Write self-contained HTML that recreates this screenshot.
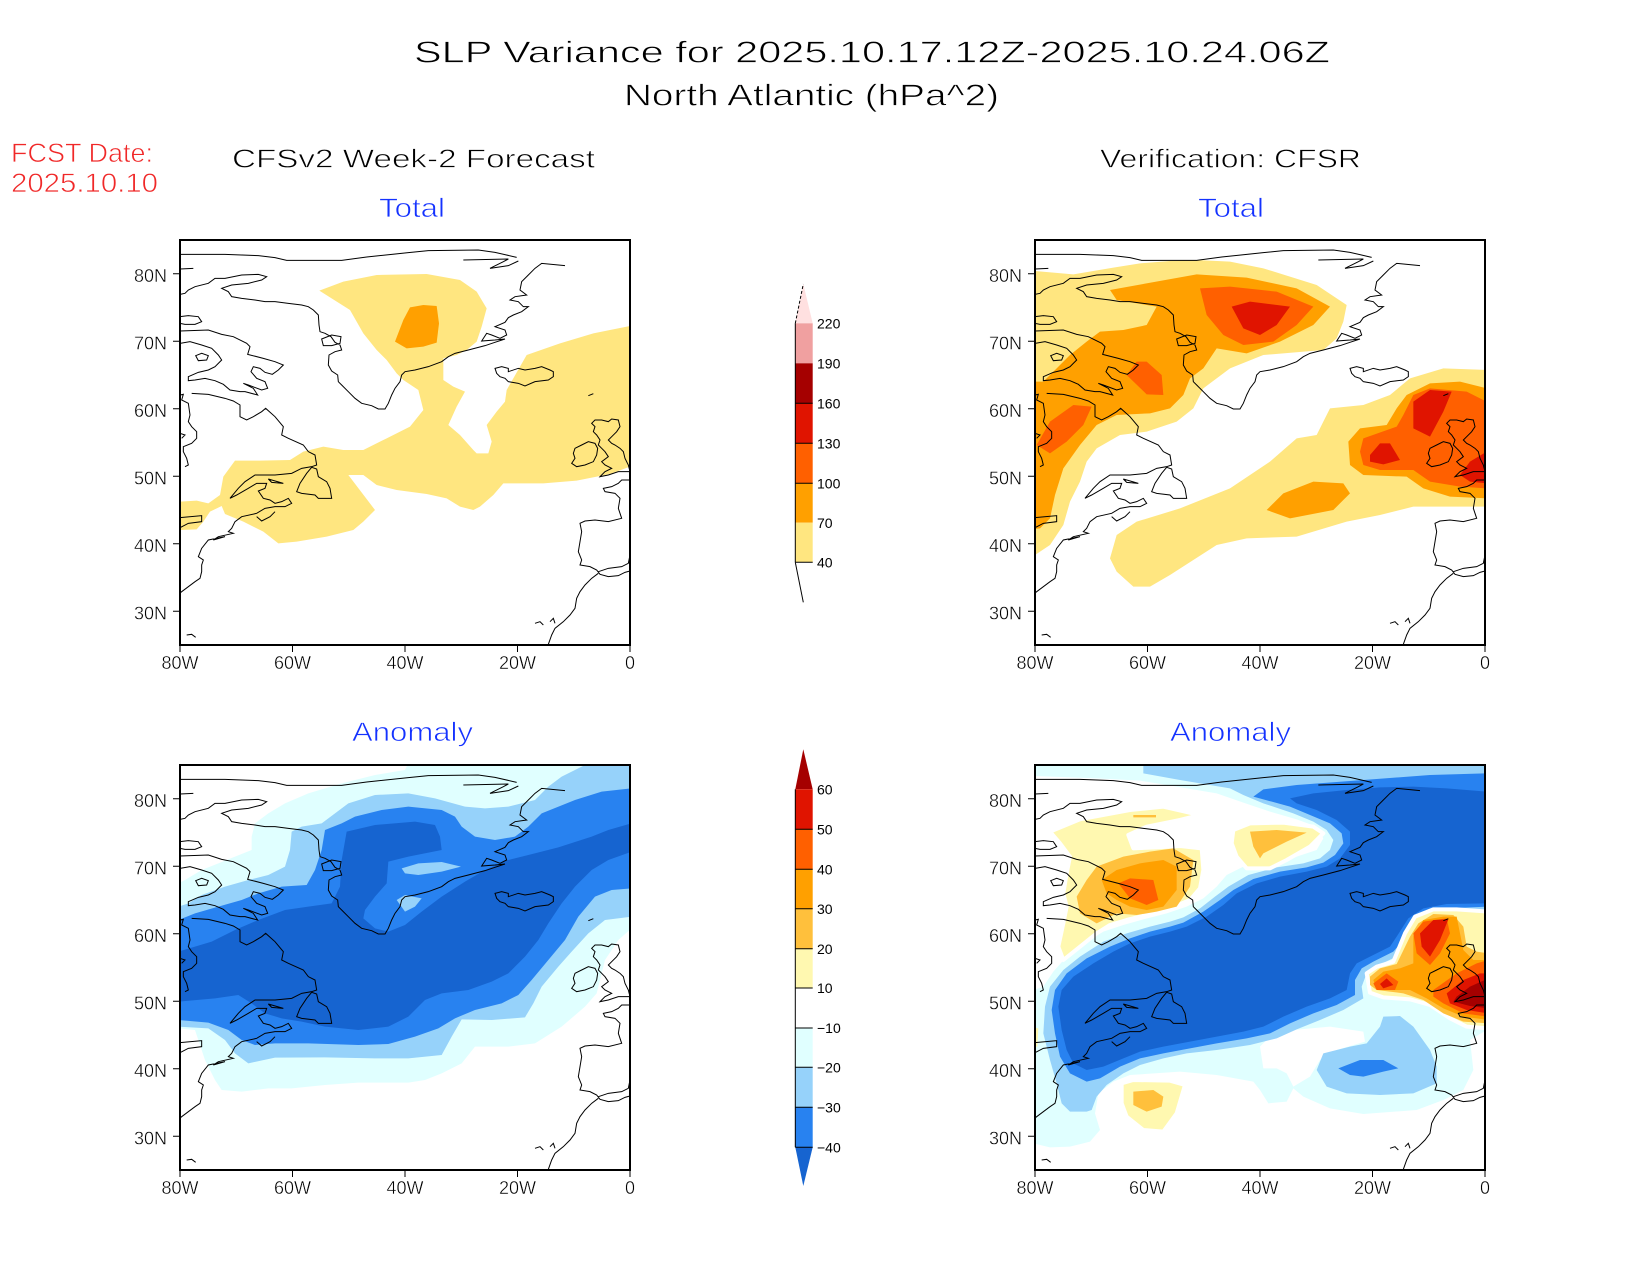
<!DOCTYPE html>
<html><head><meta charset="utf-8"><style>
html,body{margin:0;padding:0;background:#fff;}
svg{display:block;}
text{font-family:"Liberation Sans",sans-serif;}
.thin{stroke:#fff;stroke-width:0.7px;}
.thin2{stroke:#fff;stroke-width:0.4px;}
</style></head><body>
<svg xmlns="http://www.w3.org/2000/svg" xmlns:xlink="http://www.w3.org/1999/xlink" width="1650" height="1275" viewBox="0 0 1650 1275">
<defs>
<clipPath id="cTL"><rect x="180" y="240" width="450" height="405"/></clipPath>
<clipPath id="cTR"><rect x="1035" y="240" width="450" height="405"/></clipPath>
<clipPath id="cBL"><rect x="180" y="765" width="450" height="405"/></clipPath>
<clipPath id="cBR"><rect x="1035" y="765" width="450" height="405"/></clipPath>
<path id="coast" fill="none" stroke="#000" stroke-width="1" vector-effect="non-scaling-stroke" d="M15,58 L150,58 L250,62 L300,68 L335,76 L500,76 L575,66 L700,53 L760,47 L910,45 L960,52 L1025,67 M865,75 L1000,72 L985,80 L945,100 L1000,92 L1030,78 M15,102 L55,100 M1170,92 L1100,85 L1080,100 L1060,120 L1040,140 L1035,165 L1055,180 L1020,185 L1005,195 L1030,200 L1045,215 L1060,215 L1040,230 L1015,240 L1000,248 L990,262 L960,275 L990,285 L995,300 L975,310 L950,300 L935,295 L920,318 L960,315 L990,312 L960,322 L930,332 L880,345 L840,355 L820,365 L800,380 L760,395 L720,405 L690,410 L680,420 L675,440 L660,460 L650,480 L640,505 L630,522 L610,522 L590,512 L560,505 L540,490 L520,470 L500,450 L490,440 L488,420 L470,408 L460,390 L462,360 L480,350 L500,345 L495,330 L480,322 L468,305 L450,295 L435,290 L432,270 L430,240 L415,225 L400,215 L380,210 L340,205 L300,200 L270,200 L240,195 L200,190 L170,185 L160,170 L140,160 L170,150 L220,145 L260,135 L275,125 L250,118 L200,120 L150,130 L120,130 L100,145 L60,155 L40,165 L30,175 L15,178 M440,312 L470,300 L498,305 L495,325 L470,332 L445,332 Z M15,245 L40,242 L70,245 L80,260 L60,268 L30,268 L15,265 M15,288 L100,285 L140,298 L175,305 L215,325 L225,335 L218,358 L265,370 L300,380 L325,390 L310,405 L292,418 L270,412 L255,400 L235,395 L228,410 L245,430 L270,440 L278,460 L260,465 L220,450 L205,445 L235,460 L248,480 L210,470 L195,470 L165,465 L145,448 L120,437 L90,430 L60,435 L40,437 L40,425 L70,412 L100,405 L120,395 L140,375 L130,360 L110,340 L80,330 L45,320 L15,325 M62,362 L80,355 L100,362 L95,375 L70,377 Z M15,480 L25,478 L20,495 L40,505 L45,540 L40,560 L50,575 L65,590 L65,610 L50,625 L25,635 L25,650 L35,670 L40,690 L30,695 M15,595 L30,600 L20,610 M50,475 L100,478 L150,490 L175,498 L195,510 L195,545 L215,555 L235,545 L260,530 L272,520 L300,545 L325,575 L320,600 L340,610 L385,630 L400,650 L420,660 L425,690 L410,695 L380,700 L350,715 L300,720 L240,720 L210,740 L190,760 L165,790 L185,780 L220,760 L245,745 L275,745 L270,760 L250,768 L265,790 L285,795 L300,805 L320,800 L340,790 L350,805 L330,815 L300,815 L270,820 L245,835 L200,845 L180,860 L170,880 L160,890 L175,895 L130,905 L115,915 L150,905 L100,915 L80,940 L70,965 L85,975 L80,990 L80,1010 L75,1030 L60,1040 L40,1055 L20,1070 L15,1075 M410,697 L425,702 L430,725 L455,740 L465,760 L470,790 L455,790 L430,790 L420,780 L380,775 L365,770 L375,745 L395,715 Z M245,845 L260,858 L285,845 L300,830 M280,732 L325,745 L290,742 Z M15,848 L80,842 L80,860 L40,865 L15,878 M960,400 L980,395 L1000,400 L1000,410 L1030,400 L1050,405 L1080,400 L1100,395 L1125,405 L1135,410 L1135,425 L1120,435 L1080,440 L1050,453 L1030,445 L1000,440 L990,430 L975,425 L965,415 Z M1250,565 L1260,555 L1280,555 L1300,560 L1310,552 L1330,555 L1335,575 L1325,590 L1310,605 L1300,615 L1310,625 L1320,630 L1335,640 L1345,650 L1350,670 L1360,690 L1365,710 L1330,710 L1300,720 L1275,725 L1290,710 L1310,700 L1290,690 L1280,680 L1300,665 L1290,650 L1280,640 L1270,630 L1275,615 L1265,600 L1255,590 L1260,575 Z M1200,640 L1220,630 L1240,620 L1260,625 L1268,640 L1265,660 L1255,680 L1230,690 L1205,695 L1190,685 L1200,670 L1195,655 Z M1365,735 L1340,735 L1330,745 L1310,755 L1285,760 L1290,770 L1320,775 L1335,790 L1330,820 L1340,850 L1300,860 L1260,855 L1230,858 L1215,865 L1220,890 L1215,920 L1210,950 L1220,975 L1215,990 L1245,995 L1265,1005 L1275,1018 L1300,1025 L1330,1022 L1350,1012 L1365,1008 M1270,1010 L1300,1000 L1340,995 L1360,985 L1365,960 M1270,1015 L1250,1030 L1230,1050 L1215,1070 L1205,1090 L1200,1120 L1185,1140 L1165,1160 L1140,1180 L1130,1200 L1120,1228 M1080,1165 L1095,1160 L1105,1170 M1125,1160 L1135,1150 L1140,1165 M35,1200 L50,1198 L62,1207 M1240,482 L1255,476"/>
</defs>
<rect x="0" y="0" width="1650" height="1275" fill="#fff"/>

<!-- Titles -->
<g class="thin">
<text x="414" y="62.5" font-size="31" textLength="916" lengthAdjust="spacingAndGlyphs" fill="#000">SLP Variance for 2025.10.17.12Z-2025.10.24.06Z</text>
<text x="624" y="105.5" font-size="31" textLength="375" lengthAdjust="spacingAndGlyphs" fill="#000">North Atlantic (hPa^2)</text>
<text x="11" y="162" font-size="27" textLength="142" lengthAdjust="spacingAndGlyphs" fill="#f02828">FCST Date:</text>
<text x="11" y="192" font-size="27" textLength="147" lengthAdjust="spacingAndGlyphs" fill="#f02828">2025.10.10</text>
<text x="232" y="167.5" font-size="26" textLength="363" lengthAdjust="spacingAndGlyphs" fill="#000">CFSv2 Week-2 Forecast</text>
<text x="1100" y="167.5" font-size="26" textLength="261" lengthAdjust="spacingAndGlyphs" fill="#000">Verification: CFSR</text>
<text x="379" y="217" font-size="27" textLength="66" lengthAdjust="spacingAndGlyphs" fill="#1432ff">Total</text>
<text x="1198" y="217" font-size="27" textLength="66" lengthAdjust="spacingAndGlyphs" fill="#1432ff">Total</text>
<text x="352" y="741" font-size="27" textLength="121" lengthAdjust="spacingAndGlyphs" fill="#1432ff">Anomaly</text>
<text x="1170" y="741" font-size="27" textLength="121" lengthAdjust="spacingAndGlyphs" fill="#1432ff">Anomaly</text>
</g>

<!-- TL map: forecast total -->
<g clip-path="url(#cTL)">
<g transform="translate(110,220) scale(0.333333)">
<path fill="#ffe680" d="M628,212 L700,185 L800,165 L950,162 L1050,180 L1100,215 L1130,265 L1115,320 L1100,365 L1070,390 L1040,405 L1000,415 L1000,480 L1030,500 L1065,515 L1040,560 L1015,615 L1050,645 L1090,690 L1100,700 L1135,700 L1145,665 L1130,615 L1160,575 L1185,545 L1190,510 L1250,405 L1350,370 L1450,340 L1500,330 L1560,318 L1560,740 L1500,762 L1400,782 L1300,790 L1180,790 L1150,825 L1110,860 L1090,870 L1050,860 L1010,835 L950,822 L860,810 L800,795 L760,765 L715,765 L795,870 L760,905 L730,930 L650,950 L560,965 L505,970 L460,935 L400,905 L345,882 L335,858 L300,875 L280,905 L260,928 L205,930 L205,845 L260,842 L295,850 L330,825 L340,770 L375,722 L450,722 L540,720 L580,695 L640,680 L700,690 L760,690 L830,655 L900,620 L940,570 L925,510 L880,480 L860,460 L830,420 L800,390 L760,340 L720,270 Z"/>
<path fill="#ffa000" d="M855,365 L880,300 L900,262 L940,255 L980,258 L987,310 L980,368 L940,380 L890,385 Z"/>
</g>
<g transform="translate(175,235) scale(0.333333)"><use xlink:href="#coast" href="#coast"/></g>
</g>

<!-- TR map: verification total -->
<g clip-path="url(#cTR)">
<g transform="translate(1030,235) scale(0.333333)">
<path fill="#ffe680" d="M15,108 L130,118 L250,98 L330,85 L420,78 L500,75 L600,80 L700,100 L860,150 L950,210 L940,260 L920,310 L880,345 L700,360 L600,400 L560,430 L520,460 L490,520 L440,560 L350,590 L270,600 L200,640 L170,680 L150,740 L120,800 L100,870 L60,930 L15,960 Z"/>
<path fill="#ffe680" d="M1370,405 L1240,400 L1140,430 L1080,480 L1000,510 L900,520 L880,560 L860,600 L800,610 L720,680 L600,760 L450,820 L320,860 L260,900 L240,970 L260,1010 L310,1055 L360,1055 L420,1020 L560,930 L650,910 L800,905 L950,860 L1050,840 L1150,815 L1300,815 L1370,815 Z"/>
<path fill="#ffa000" d="M240,165 L500,118 L650,128 L800,160 L900,215 L850,270 L750,320 L650,355 L560,340 L520,400 L480,430 L460,480 L420,520 L360,535 L260,540 L200,570 L150,630 L100,700 L75,780 L60,850 L30,880 L10,882 L10,440 L40,440 L80,400 L120,360 L170,320 L210,290 L280,285 L350,270 L380,215 L260,195 Z"/>
<path fill="#ffa000" d="M1370,460 L1290,440 L1200,445 L1130,480 L1100,520 L1070,570 L990,580 L955,620 L960,690 L1000,720 L1130,725 L1180,760 L1260,785 L1370,790 Z"/>
<path fill="#ffa000" d="M710,825 L760,775 L850,740 L940,745 L960,775 L910,825 L780,850 Z"/>
<path fill="#ff6000" d="M510,160 L600,155 L740,170 L850,215 L800,270 L730,320 L640,330 L580,300 L530,240 Z"/>
<path fill="#ff6000" d="M290,420 L320,380 L350,380 L395,420 L400,480 L350,478 Z"/>
<path fill="#ff6000" d="M20,630 L60,560 L130,510 L185,515 L160,570 L110,620 L60,655 Z"/>
<path fill="#ff6000" d="M1370,500 L1310,470 L1200,460 L1150,480 L1120,540 L1100,575 L1000,610 L990,650 L1000,690 L1050,705 L1150,705 L1200,740 L1290,755 L1370,760 Z"/>
<path fill="#e01400" d="M605,215 L660,200 L780,215 L740,270 L690,300 L640,280 Z"/>
<path fill="#e01400" d="M1150,500 L1200,465 L1265,470 L1240,530 L1200,605 L1150,580 Z"/>
<path fill="#e01400" d="M1020,660 L1050,625 L1080,625 L1110,675 L1060,688 L1020,680 Z"/>
<path fill="#e01400" d="M1370,650 L1320,680 L1290,720 L1320,740 L1370,745 Z"/>
<use xlink:href="#coast" href="#coast"/>
</g>
</g>

<!-- BL map: forecast anomaly -->
<g clip-path="url(#cBL)">
<g transform="translate(175,760) scale(0.333333)">
<path fill="#e0ffff" d="M700,10 L1370,10 L1370,505 L1330,540 L1290,600 L1275,660 L1265,700 L1230,740 L1160,800 L1080,850 L1000,860 L900,860 L860,910 L800,940 L750,960 L700,968 L550,968 L450,975 L350,985 L280,985 L200,995 L140,990 L120,960 L90,900 L70,840 L60,810 L10,805 L10,370 L30,360 L80,330 L130,310 L180,290 L230,270 L230,230 L240,190 L280,160 L330,130 L400,100 L500,70 L600,45 L690,30 Z"/>
<path fill="#96d2fa" d="M1240,10 L1370,10 L1370,470 L1290,480 L1240,520 L1190,575 L1150,620 L1100,680 L1075,730 L1050,772 L950,780 L860,778 L830,830 L800,885 L700,895 L600,895 L450,892 L300,893 L220,910 L180,880 L150,840 L100,805 L10,800 L10,440 L40,430 L80,405 L150,380 L220,360 L280,345 L330,320 L345,270 L350,215 L380,200 L440,190 L480,160 L520,130 L600,105 L700,100 L780,115 L870,140 L930,145 L1000,140 L1080,120 L1120,80 L1160,50 Z"/>
<path fill="#2882f0" d="M1370,85 L1370,385 L1310,390 L1260,410 L1210,470 L1170,540 L1120,600 L1070,660 L1030,705 L980,730 L900,750 L840,775 L790,805 L720,830 L640,852 L550,855 L400,850 L300,850 L240,855 L200,840 L160,810 L100,788 L10,780 L10,480 L60,460 L130,440 L200,420 L250,400 L320,380 L395,375 L420,330 L440,270 L450,210 L500,190 L540,170 L620,150 L700,140 L800,150 L840,170 L860,200 L900,230 L960,240 L1020,230 L1060,200 L1100,160 L1200,120 L1280,95 Z"/>
<path fill="#1664d0" d="M10,575 L60,560 L110,545 L180,510 L250,480 L330,450 L400,440 L470,430 L495,380 L500,300 L515,215 L600,195 L720,185 L780,195 L795,230 L800,270 L700,290 L640,305 L635,370 L600,410 L570,450 L565,475 L600,505 L640,515 L690,495 L740,455 L800,410 L870,365 L930,330 L1000,300 L1060,285 L1150,262 L1250,230 L1300,210 L1370,190 L1370,275 L1300,300 L1250,330 L1200,380 L1160,430 L1120,490 L1090,540 L1050,590 L1000,640 L950,665 L880,690 L800,700 L750,720 L700,770 L640,800 L550,810 L450,800 L380,785 L320,775 L270,760 L230,730 L190,705 L120,715 L10,725 Z"/>
<path fill="#96d2fa" d="M680,325 L730,310 L800,306 L858,320 L800,335 L730,345 L690,340 Z"/>
<path fill="#96d2fa" d="M665,420 L690,405 L740,415 L720,440 L690,455 Z"/>
<use xlink:href="#coast" href="#coast"/>
</g>
</g>

<!-- BR map: verification anomaly -->
<g clip-path="url(#cBR)">
<g transform="translate(1030,760) scale(0.333333)">
<path fill="#e0ffff" d="M10,10 L1370,10 L1370,810 L1320,840 L1330,930 L1300,990 L1240,1020 L1160,1050 L1000,1062 L900,1045 L820,1010 L790,985 L770,1025 L715,1030 L690,990 L670,965 L560,945 L450,935 L300,945 L250,965 L205,1000 L195,1060 L210,1110 L180,1145 L120,1160 L60,1162 L10,1150 Z"/>
<path fill="#fff" d="M10,48 L200,55 L330,62 L440,80 L560,100 L640,128 L720,155 L800,178 L860,200 L880,235 L860,270 L800,290 L720,305 L640,320 L590,345 L560,380 L520,415 L470,440 L410,460 L340,478 L280,495 L220,515 L160,550 L110,590 L70,635 L40,680 L10,690 Z"/>
<path fill="#fff" d="M690,860 L720,830 L790,810 L900,800 L1000,815 L1005,845 L920,870 L870,900 L840,950 L790,980 L770,940 L740,925 L700,925 Z"/>
<path fill="#96d2fa" d="M40,820 L45,740 L60,680 L100,630 L150,590 L220,545 L290,520 L360,500 L420,485 L460,472 L510,445 L555,410 L595,380 L655,345 L740,322 L820,310 L870,295 L900,270 L910,240 L890,210 L850,185 L790,160 L700,130 L640,105 L600,85 L450,60 L340,40 L340,10 L1370,10 L1370,450 L1250,455 L1200,462 L1160,495 L1130,550 L1100,590 L1040,618 L1010,640 L995,680 L1000,715 L940,750 L870,780 L800,808 L740,835 L660,855 L560,870 L470,880 L400,895 L330,915 L280,940 L230,975 L200,1010 L185,1050 L170,1055 L120,1055 L95,1030 L80,970 L60,900 Z"/>
<path fill="#96d2fa" d="M860,930 L880,880 L960,860 L1010,850 L1050,800 L1060,770 L1110,768 L1150,800 L1200,870 L1220,920 L1220,970 L1150,1000 L1050,1005 L950,1000 L890,980 Z"/>
<path fill="#2882f0" d="M65,750 L75,690 L110,640 L170,595 L240,560 L300,535 L360,515 L420,500 L460,488 L520,455 L570,420 L610,390 L670,357 L750,335 L830,322 L880,308 L915,285 L940,250 L935,220 L900,190 L840,165 L780,140 L700,118 L670,110 L700,88 L800,75 L1000,60 L1200,45 L1370,40 L1370,440 L1250,445 L1190,455 L1150,485 L1120,540 L1090,575 L1030,605 L995,625 L975,660 L975,705 L920,735 L850,760 L780,790 L720,820 L650,835 L560,850 L480,865 L400,880 L330,895 L270,920 L210,955 L170,965 L120,940 L90,890 L75,820 Z"/>
<path fill="#2882f0" d="M925,925 L990,900 L1060,900 L1105,925 L1060,935 L1000,950 L960,945 Z"/>
<path fill="#1664d0" d="M85,740 L95,690 L130,650 L190,610 L250,575 L300,550 L360,530 L420,515 L470,500 L530,470 L580,435 L620,400 L680,370 L750,350 L830,335 L890,320 L930,295 L960,255 L960,215 L920,180 L860,150 L800,130 L780,115 L850,100 L950,90 L1050,82 L1150,80 L1250,85 L1370,95 L1370,430 L1250,432 L1180,445 L1135,475 L1100,530 L1080,560 L1020,590 L980,610 L960,640 L950,690 L900,715 L830,740 L760,770 L700,800 L640,815 L560,830 L480,845 L400,860 L330,875 L280,895 L220,920 L170,930 L130,910 L110,870 L95,810 Z"/>
<g stroke="#fff" stroke-width="12" stroke-linejoin="round">
<path fill="#fff8b0" d="M60,215 L150,178 L300,150 L400,140 L510,165 L450,180 L350,200 L295,225 L310,265 L380,262 L450,258 L515,265 L520,330 L510,385 L480,420 L420,445 L350,465 L290,480 L240,495 L200,520 L150,560 L100,600 L85,560 L100,490 L110,440 L100,400 L110,340 L120,290 L90,250 Z"/>
<path fill="#fff8b0" d="M610,210 L660,190 L760,188 L850,200 L880,220 L840,260 L770,300 L720,325 L650,325 L620,290 L605,250 Z"/>
<path fill="#fff8b0" d="M275,970 L310,960 L420,962 L465,975 L440,1060 L400,1115 L340,1110 L290,1070 L275,1030 Z"/>
<path fill="#fff8b0" d="M1010,640 L1040,620 L1090,605 L1125,520 L1155,470 L1210,448 L1280,448 L1375,455 L1375,805 L1310,800 L1260,775 L1200,735 L1140,718 L1060,712 L1020,698 Z"/>
</g>
<path fill="#fff8b0" d="M5,800 L25,805 L22,860 L5,860 Z"/>
<path fill="#ffc03c" d="M140,410 L170,360 L200,320 L280,290 L360,275 L430,265 L490,300 L480,380 L440,440 L380,455 L320,465 L260,460 L200,490 L150,460 Z"/>
<path fill="#ffc03c" d="M660,215 L740,210 L830,218 L770,245 L700,280 L690,295 L670,260 Z"/>
<path fill="#ffc03c" d="M310,995 L370,990 L400,1010 L395,1040 L350,1055 L310,1035 Z"/>
<path fill="#ffc03c" d="M310,165 L378,165 L378,172 L310,172 Z"/>
<path fill="#ffc03c" d="M1020,650 L1050,625 L1100,612 L1140,530 L1165,490 L1210,462 L1270,465 L1300,500 L1310,560 L1340,575 L1375,580 L1375,790 L1300,785 L1240,760 L1180,720 L1120,700 L1040,690 L1020,675 Z"/>
<path fill="#ffa000" d="M215,360 L260,330 L330,310 L400,300 L440,320 L440,390 L400,440 L350,450 L300,440 L260,420 L230,400 Z"/>
<path fill="#ffa000" d="M1030,660 L1060,635 L1110,625 L1150,610 L1150,530 L1180,480 L1240,470 L1280,470 L1290,520 L1300,570 L1330,600 L1375,600 L1375,780 L1300,770 L1240,745 L1190,715 L1140,690 L1080,690 L1040,685 Z"/>
<path fill="#ff6000" d="M265,370 L300,355 L370,360 L385,420 L350,435 L300,415 Z"/>
<path fill="#ff6000" d="M1150,520 L1180,485 L1250,475 L1260,520 L1230,580 L1200,615 L1160,580 Z"/>
<path fill="#ff6000" d="M1030,670 L1070,640 L1105,665 L1095,690 L1040,690 Z"/>
<path fill="#ff6000" d="M1210,690 L1280,640 L1340,610 L1375,600 L1375,770 L1300,760 L1240,730 L1210,710 Z"/>
<path fill="#e01400" d="M1170,520 L1210,480 L1255,478 L1230,540 L1200,590 L1175,560 Z"/>
<path fill="#e01400" d="M1050,672 L1070,655 L1090,675 L1060,685 Z"/>
<path fill="#e01400" d="M1250,700 L1300,660 L1350,640 L1375,640 L1375,760 L1310,750 L1260,730 Z"/>
<path fill="#a50000" d="M1280,710 L1320,680 L1375,655 L1375,745 L1320,738 L1270,725 Z"/>
<use xlink:href="#coast" href="#coast"/>
</g>
</g>

<!-- Frames -->
<g fill="none" stroke="#000" stroke-width="2">
<rect x="180" y="240" width="450" height="405"/>
<rect x="1035" y="240" width="450" height="405"/>
<rect x="180" y="765" width="450" height="405"/>
<rect x="1035" y="765" width="450" height="405"/>
</g>

<!-- Ticks -->
<g stroke="#000" stroke-width="1">
<path d="M173,273.75H180M173,341.25H180M173,408.75H180M173,476.25H180M173,543.75H180M173,611.25H180"/>
<path d="M1028,273.75H1035M1028,341.25H1035M1028,408.75H1035M1028,476.25H1035M1028,543.75H1035M1028,611.25H1035"/>
<path d="M173,798.75H180M173,866.25H180M173,933.75H180M173,1001.25H180M173,1068.75H180M173,1136.25H180"/>
<path d="M1028,798.75H1035M1028,866.25H1035M1028,933.75H1035M1028,1001.25H1035M1028,1068.75H1035M1028,1136.25H1035"/>
<path d="M180,645V652M292.5,645V652M405,645V652M517.5,645V652M630,645V652"/>
<path d="M1035,645V652M1147.5,645V652M1260,645V652M1372.5,645V652M1485,645V652"/>
<path d="M180,1170V1177M292.5,1170V1177M405,1170V1177M517.5,1170V1177M630,1170V1177"/>
<path d="M1035,1170V1177M1147.5,1170V1177M1260,1170V1177M1372.5,1170V1177M1485,1170V1177"/>
</g>

<!-- Lat labels -->
<g font-size="18" fill="#000" text-anchor="end" class="thin2">
<text x="167" y="282">80N</text><text x="167" y="349.5">70N</text><text x="167" y="417">60N</text><text x="167" y="484.5">50N</text><text x="167" y="552">40N</text><text x="167" y="619.5">30N</text>
<text x="1022" y="282">80N</text><text x="1022" y="349.5">70N</text><text x="1022" y="417">60N</text><text x="1022" y="484.5">50N</text><text x="1022" y="552">40N</text><text x="1022" y="619.5">30N</text>
<text x="167" y="807">80N</text><text x="167" y="874.5">70N</text><text x="167" y="942">60N</text><text x="167" y="1009.5">50N</text><text x="167" y="1077">40N</text><text x="167" y="1144.5">30N</text>
<text x="1022" y="807">80N</text><text x="1022" y="874.5">70N</text><text x="1022" y="942">60N</text><text x="1022" y="1009.5">50N</text><text x="1022" y="1077">40N</text><text x="1022" y="1144.5">30N</text>
</g>
<!-- Lon labels -->
<g font-size="18" fill="#000" text-anchor="middle" class="thin2">
<text x="180" y="669">80W</text><text x="292.5" y="669">60W</text><text x="405" y="669">40W</text><text x="517.5" y="669">20W</text><text x="630" y="669">0</text>
<text x="1035" y="669">80W</text><text x="1147.5" y="669">60W</text><text x="1260" y="669">40W</text><text x="1372.5" y="669">20W</text><text x="1485" y="669">0</text>
<text x="180" y="1194">80W</text><text x="292.5" y="1194">60W</text><text x="405" y="1194">40W</text><text x="517.5" y="1194">20W</text><text x="630" y="1194">0</text>
<text x="1035" y="1194">80W</text><text x="1147.5" y="1194">60W</text><text x="1260" y="1194">40W</text><text x="1372.5" y="1194">20W</text><text x="1485" y="1194">0</text>
</g>

<!-- Top colorbar -->
<polygon points="795.3,323.3 812.7,323.3 803.3,284" fill="#ffe0e0"/>
<rect x="795.3" y="323.3" width="17.4" height="40" fill="#f0a0a0"/>
<rect x="795.3" y="363.3" width="17.4" height="40" fill="#a50000"/>
<rect x="795.3" y="403.3" width="17.4" height="40" fill="#e01400"/>
<rect x="795.3" y="443.3" width="17.4" height="40" fill="#ff6000"/>
<rect x="795.3" y="483.3" width="17.4" height="39.4" fill="#ffa000"/>
<rect x="795.3" y="522.7" width="17.4" height="39.6" fill="#ffe680"/>
<g stroke="#000" stroke-width="1" fill="none">
<line x1="795.3" y1="323.3" x2="803.3" y2="284" stroke-dasharray="3,2"/>
<line x1="795.3" y1="323.3" x2="795.3" y2="562.3"/>
<line x1="795.3" y1="562.3" x2="803.3" y2="602.3"/>
<path d="M795.3,562.3H812.7M795.3,483.3H812.7M795.3,443.3H812.7M795.3,403.3H812.7"/>
</g>
<g font-size="14" fill="#000">
<text x="817" y="328.5">220</text><text x="817" y="368.5">190</text><text x="817" y="408.5">160</text><text x="817" y="448.5">130</text><text x="817" y="488.5">100</text><text x="817" y="528">70</text><text x="817" y="567.5">40</text>
</g>

<!-- Bottom colorbar -->
<polygon points="795.3,789.3 812.7,789.3 803.3,749.3" fill="#a50000"/>
<rect x="795.3" y="789.3" width="17.4" height="40" fill="#e01400"/>
<rect x="795.3" y="829.3" width="17.4" height="40" fill="#ff6000"/>
<rect x="795.3" y="869.3" width="17.4" height="39.4" fill="#ffa000"/>
<rect x="795.3" y="908.7" width="17.4" height="40" fill="#ffc03c"/>
<rect x="795.3" y="948.7" width="17.4" height="39.3" fill="#fff8b0"/>
<rect x="795.3" y="1028" width="17.4" height="39.3" fill="#e0ffff"/>
<rect x="795.3" y="1067.3" width="17.4" height="40" fill="#96d2fa"/>
<rect x="795.3" y="1107.3" width="17.4" height="40" fill="#2882f0"/>
<polygon points="795.3,1147.3 812.7,1147.3 803.3,1186" fill="#1664d0"/>
<g stroke="#000" stroke-width="1" fill="none">
<line x1="795.3" y1="789.3" x2="795.3" y2="1147.3"/>
<path d="M795.3,829.3H812.7M795.3,869.3H812.7M795.3,908.7H812.7M795.3,948.7H812.7M795.3,988H812.7M795.3,1028H812.7M795.3,1067.3H812.7M795.3,1107.3H812.7M795.3,1147.3H812.7"/>
</g>
<g font-size="14" fill="#000">
<text x="817" y="794.5">60</text><text x="817" y="834.5">50</text><text x="817" y="874.5">40</text><text x="817" y="914">30</text><text x="817" y="954">20</text><text x="817" y="993">10</text>
<text x="817" y="1033">−10</text><text x="817" y="1072.5">−20</text><text x="817" y="1112.5">−30</text><text x="817" y="1152.5">−40</text>
</g>
</svg>
</body></html>
